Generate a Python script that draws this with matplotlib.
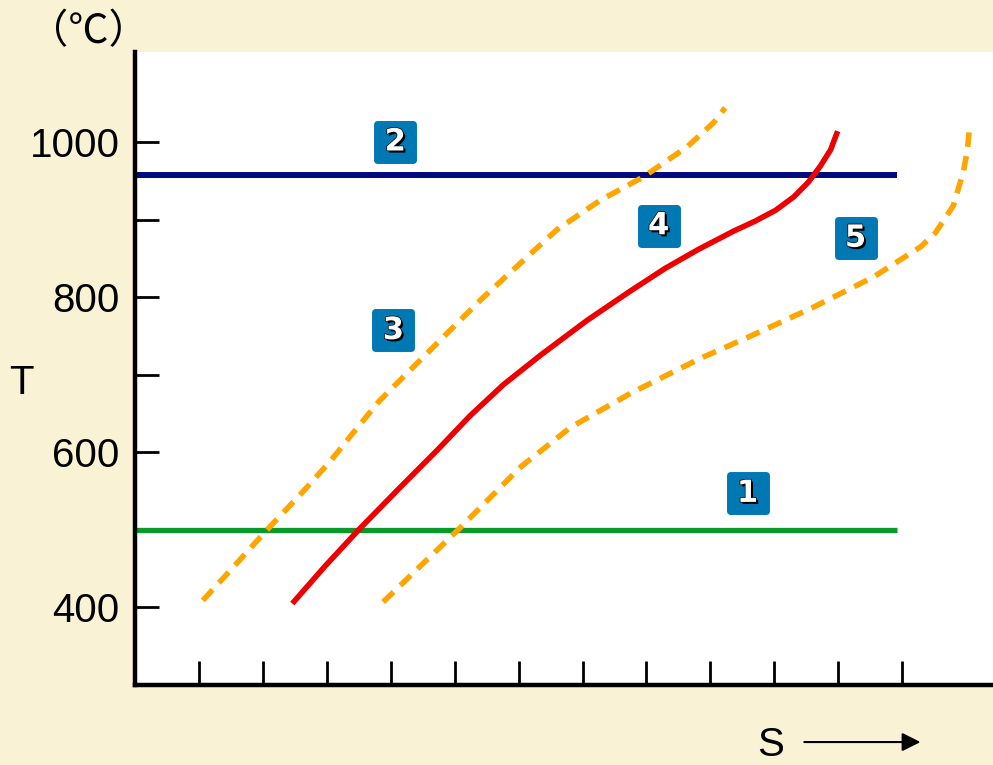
import numpy as np
import matplotlib.pyplot as plt
import matplotlib.patheffects as pe
from matplotlib.markers import MarkerStyle

#--------------------------------
# Data
#--------------------------------
# horizontal lines (1 and 2)
line1_s = [0.0, 11.92]
line1_t = [500, 500]
line2_s = [0.0, 11.92]
line2_t = [957, 957]

# curve 4 (red)
red_s = [2.46, 2.97, 3.52, 4.15, 4.73, 5.24, 5.76, 6.34, 7.07, 7.75, 8.29, 8.80,
         9.36, 9.70, 10.02, 10.30, 10.53, 10.72, 10.88, 10.99]
red_t = [405, 453, 502, 555, 603, 647, 687, 725, 770, 808, 837, 861,
         885, 898, 912, 929, 948, 969, 990, 1014]

# curve 3 (orange dashed, left)
left_s = [1.06, 1.56, 2.03, 2.58, 3.07, 3.41, 3.83, 4.73, 5.40, 6.03, 6.60, 7.28,
          7.95, 8.64, 9.05, 9.23]
left_t = [409, 454, 497, 545, 590, 625, 667, 741, 796, 844, 887, 925,
          955, 994, 1025, 1044]

# curve 5 (orange dashed, right)
right_s = [3.88, 5.09, 6.03, 6.81, 7.75, 8.84, 9.58, 10.61, 11.55, 12.29, 12.52,
           12.80, 12.96, 13.02, 13.05]
right_t = [407, 503, 581, 632, 676, 721, 748, 787, 826, 865, 883,
           918, 963, 990, 1016]

# numbered boxes
box_names = ['1', '2', '3', '4', '5']
box_s = [9.58, 4.07, 4.04, 8.19, 11.27]
box_t = [547, 1000, 757, 892, 876]

major_t = [400, 600, 800, 1000]
minor_t = [500, 700, 900]
s_ticks = list(range(1, 13))

#--------------------------------
# Style
#--------------------------------
bg = '#FAF2D4'
box_color = '#0078B4'
plt.rcParams['font.family'] = ['Liberation Sans', 'DejaVu Sans']

fig = plt.figure(figsize=(9.93, 7.65), dpi=100, facecolor=bg)
ax = fig.add_axes([0.136, 0.1046, 0.864, 0.8274])
ax.set_facecolor('white')

ax.plot(line1_s, line1_t, color='#0A9A2A', lw=3.8, solid_capstyle='butt')
ax.plot(line2_s, line2_t, color='#000A7E', lw=4.3, solid_capstyle='butt')
ax.plot(red_s, red_t, color='#EE0000', lw=4.0, solid_capstyle='butt',
        solid_joinstyle='round')
ax.plot(left_s, left_t, color='#FFA500', lw=4.0, dashes=(2.6, 1.7))
ax.plot(right_s, right_t, color='#FFA500', lw=4.0, dashes=(2.6, 1.7))

# number boxes
box_marker = MarkerStyle('s', joinstyle='round')
ax.plot(box_s, box_t, ls='none', marker=box_marker, ms=26, mfc=box_color,
        mec=box_color, mew=5, zorder=5)
for name, s, t in zip(box_names, box_s, box_t):
    ax.text(s, t, name, ha='center', va='center', color='white',
            fontsize=22, fontweight='bold', family='DejaVu Sans', zorder=6,
            path_effects=[pe.withSimplePatchShadow(offset=(1.5, -1.5),
                                                   shadow_rgbFace='black',
                                                   alpha=1),
                          pe.Stroke(linewidth=1, foreground='black'),
                          pe.Normal()])

ax.set_xlim(0, 13.42)
ax.set_ylim(300, 1116)

ax.set_xticks(s_ticks)
ax.set_xticklabels([])
ax.set_yticks(major_t)
ax.set_yticks(minor_t, minor=True)
ax.tick_params(axis='both', which='both', direction='in', length=17,
               width=2, color='black')
ax.tick_params(axis='y', labelsize=29, pad=11)

for edge in ['top', 'right']:
    ax.spines[edge].set_visible(False)
for edge in ['left', 'bottom']:
    ax.spines[edge].set_linewidth(3.2)

# axis labels
fig.text(0.022, 0.499, 'T', fontsize=29, ha='center', va='center')
fig.text(0.089, 0.958, '（℃）', fontsize=29, ha='center', va='center',
         family=['Noto Sans CJK JP', 'DejaVu Sans'])
fig.text(0.776, 0.026, 'S', fontsize=29, ha='center', va='center')
fig.add_artist(plt.Annotation('', xy=(0.927, 0.030), xytext=(0.810, 0.030),
                              xycoords='figure fraction',
                              arrowprops=dict(arrowstyle='-|>', lw=1.5,
                                              color='black',
                                              mutation_scale=28,
                                              shrinkA=0, shrinkB=0)))

plt.savefig('out.png', dpi=100, facecolor=bg)
